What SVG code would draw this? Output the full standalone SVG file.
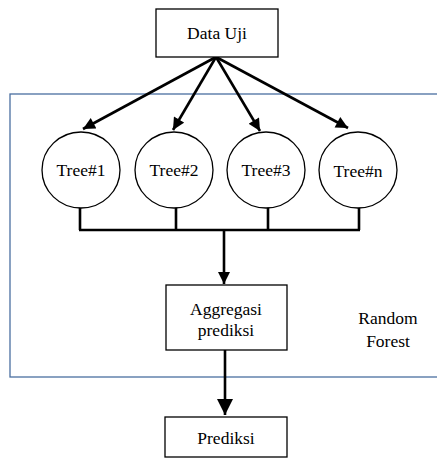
<svg xmlns="http://www.w3.org/2000/svg" width="437" height="463" viewBox="0 0 437 463">
<style>
.box{fill:#fff;stroke:#000;stroke-width:1.3}
.t{font-size:17.5px;fill:#000;text-anchor:middle;dominant-baseline:central}
.ln{fill:none;stroke:#000;stroke-width:2.6}
</style>
<defs>
<marker id="ah" viewBox="0 0 10 10" refX="10" refY="5" markerWidth="13" markerHeight="12" markerUnits="userSpaceOnUse" orient="auto"><path d="M0,0L10,5L0,10z" fill="#000"/></marker>
<marker id="ahb" viewBox="0 0 10 10" refX="10" refY="5" markerWidth="16" markerHeight="18" markerUnits="userSpaceOnUse" orient="auto"><path d="M0,0L10,5L0,10z" fill="#000"/></marker>
</defs>
<rect id="random-forest" x="10" y="94" width="440" height="283" fill="none" stroke="#4a6fa0" stroke-width="1.3"/>
<g id="connectors">
<path class="ln" d="M216,57L83,129" marker-end="url(#ah)"/>
<path class="ln" d="M216,57L173,130" marker-end="url(#ah)"/>
<path class="ln" d="M216,57L260,131" marker-end="url(#ah)"/>
<path class="ln" d="M216,57L348,128" marker-end="url(#ah)"/>
<path class="ln" d="M80,207V230M176,207V230M268,207V230M359,207V230M79,230H360"/>
<path class="ln" d="M224,230V284" marker-end="url(#ah)"/>
<path class="ln" d="M225,350V415" marker-end="url(#ahb)"/>
</g>
<g font-family="Liberation Serif, Times New Roman, DejaVu Serif, serif">
<g id="data-uji"><rect class="box" x="156" y="9" width="122" height="48"/><text class="t" x="217" y="33">Data Uji</text></g>
<g id="tree1"><ellipse class="box" cx="81" cy="170" rx="39" ry="38"/><text class="t" x="81" y="170">Tree#1</text></g>
<g id="tree2"><ellipse class="box" cx="174" cy="170" rx="39" ry="38"/><text class="t" x="174" y="170">Tree#2</text></g>
<g id="tree3"><ellipse class="box" cx="266" cy="170" rx="39" ry="38"/><text class="t" x="266" y="170">Tree#3</text></g>
<g id="treen"><ellipse class="box" cx="358" cy="170" rx="39" ry="38"/><text class="t" x="358" y="171">Tree#n</text></g>
<g id="aggregasi"><rect class="box" x="166" y="285" width="121" height="65"/><text class="t" x="226" y="309">Aggregasi</text><text class="t" x="226" y="330">prediksi</text></g>
<g id="rf-label"><text class="t" x="388" y="318">Random</text><text class="t" x="388" y="341">Forest</text></g>
<g id="prediksi"><rect class="box" x="165" y="417" width="122" height="40"/><text class="t" x="226" y="438">Prediksi</text></g>
</g>
</svg>
